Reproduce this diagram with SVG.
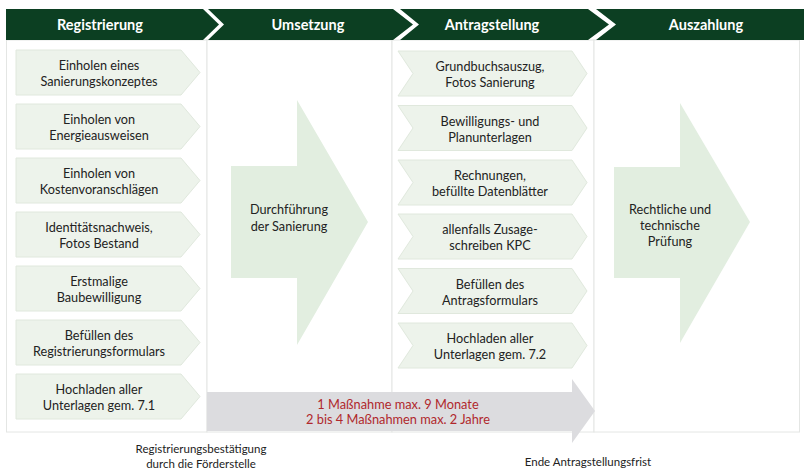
<svg xmlns="http://www.w3.org/2000/svg" width="804" height="471" viewBox="0 0 804 471">
<defs>
<style>
text{font-family:Lato,"Open Sans","Liberation Sans",sans-serif;}
.hd{fill:#0c3f22;}
.ht{fill:#ffffff;font-size:14.5px;font-weight:bold;text-anchor:middle;}
.col{fill:#ffffff;stroke:#e4e6e4;stroke-width:1;}
.box{fill:#edf3eb;stroke:#e0e8dd;stroke-width:1;}
.big{fill:#e2eee0;}
.t{fill:#222222;font-size:12.7px;text-anchor:middle;}
.red{fill:#b0282c;font-size:12.8px;text-anchor:middle;}
.lb{fill:#222222;font-size:11.5px;text-anchor:middle;}
</style>
</defs>
<rect x="0" y="0" width="804" height="471" fill="#ffffff"/>

<g id="columns">
<rect class="col" x="6.5" y="40" width="200.5" height="392"/>
<rect class="col" x="207" y="40" width="185" height="392"/>
<rect class="col" x="392" y="40" width="202" height="392"/>
<rect class="col" x="594" y="40" width="205.5" height="392"/>
</g>

<g id="header">
<g id="h-registrierung"><polygon class="hd" points="6,9 203,9 219,24.5 203,40 6,40"/><text class="ht" x="100" y="30">Registrierung</text></g>
<g id="h-umsetzung"><polygon class="hd" points="208,9 393,9 413,24.5 393,40 208,40 224,24.5"/><text class="ht" x="308" y="30">Umsetzung</text></g>
<g id="h-antragstellung"><polygon class="hd" points="400,9 588,9 609,24.5 588,40 400,40 419,24.5"/><text class="ht" x="492" y="30">Antragstellung</text></g>
<g id="h-auszahlung"><polygon class="hd" points="596,9 804,9 804,40 596,40 616,24.5"/><text class="ht" x="706" y="30">Auszahlung</text></g>
</g>

<g id="reg-1"><polygon class="box" points="16,50 181,50 200,72.5 181,95 16,95"/><text class="t" x="99" y="70">Einholen eines</text><text class="t" x="99" y="86">Sanierungskonzeptes</text></g>
<g id="reg-2"><polygon class="box" points="16,104 181,104 200,126.5 181,149 16,149"/><text class="t" x="99" y="124">Einholen von</text><text class="t" x="99" y="140">Energieausweisen</text></g>
<g id="reg-3"><polygon class="box" points="16,158 181,158 200,180.5 181,203 16,203"/><text class="t" x="99" y="178">Einholen von</text><text class="t" x="99" y="194">Kostenvoranschlägen</text></g>
<g id="reg-4"><polygon class="box" points="16,212 181,212 200,234.5 181,257 16,257"/><text class="t" x="99" y="232">Identitätsnachweis,</text><text class="t" x="99" y="248">Fotos Bestand</text></g>
<g id="reg-5"><polygon class="box" points="16,266 181,266 200,288.5 181,311 16,311"/><text class="t" x="99" y="286">Erstmalige</text><text class="t" x="99" y="302">Baubewilligung</text></g>
<g id="reg-6"><polygon class="box" points="16,320 181,320 200,342.5 181,365 16,365"/><text class="t" x="99" y="340">Befüllen des</text><text class="t" x="99" y="356">Registrierungsformulars</text></g>
<g id="reg-7"><polygon class="box" points="16,374 181,374 200,396.5 181,419 16,419"/><text class="t" x="99" y="394">Hochladen aller</text><text class="t" x="99" y="410">Unterlagen gem. 7.1</text></g>

<g id="umsetzung-arrow"><polygon class="big" points="231,166 297,166 297,100 368,222 297,345 297,278 231,278"/><text class="t" x="289" y="214">Durchführung</text><text class="t" x="289" y="231">der Sanierung</text></g>

<g id="ant-1"><polygon class="box" points="398,51 572,51 587,73.5 572,96 398,96 413,73.5"/><text class="t" x="490" y="71">Grundbuchsauszug,</text><text class="t" x="490" y="87">Fotos Sanierung</text></g>
<g id="ant-2"><polygon class="box" points="398,105.5 572,105.5 587,128 572,150.5 398,150.5 413,128"/><text class="t" x="490" y="125.5">Bewilligungs- und</text><text class="t" x="490" y="141.5">Planunterlagen</text></g>
<g id="ant-3"><polygon class="box" points="398,160 572,160 587,182.5 572,205 398,205 413,182.5"/><text class="t" x="490" y="180">Rechnungen,</text><text class="t" x="490" y="196">befüllte Datenblätter</text></g>
<g id="ant-4"><polygon class="box" points="398,214 572,214 587,236.5 572,259 398,259 413,236.5"/><text class="t" x="490" y="234">allenfalls Zusage-</text><text class="t" x="490" y="250">schreiben KPC</text></g>
<g id="ant-5"><polygon class="box" points="398,268.5 572,268.5 587,291 572,313.5 398,313.5 413,291"/><text class="t" x="490" y="288.5">Befüllen des</text><text class="t" x="490" y="304.5">Antragsformulars</text></g>
<g id="ant-6"><polygon class="box" points="398,323 572,323 587,345.5 572,368 398,368 413,345.5"/><text class="t" x="490" y="343">Hochladen aller</text><text class="t" x="490" y="359">Unterlagen gem. 7.2</text></g>

<g id="auszahlung-arrow"><polygon class="big" points="614,167 680,167 680,103 750,222 680,343 680,278 614,278"/><text class="t" x="670" y="214">Rechtliche und</text><text class="t" x="670" y="230">technische</text><text class="t" x="670" y="246">Prüfung</text></g>

<g id="frist-arrow"><polygon fill="#dcdcdf" points="207,392 572,392 572,379 595,411 572,443 572,431 207,431"/><text class="red" x="398" y="409">1 Maßnahme max. 9 Monate</text><text class="red" x="398" y="424">2 bis 4 Maßnahmen max. 2 Jahre</text></g>

<g id="labels">
<text class="lb" x="201" y="453">Registrierungsbestätigung</text>
<text class="lb" x="201" y="467.5">durch die Förderstelle</text>
<text class="lb" x="588" y="466">Ende Antragstellungsfrist</text>
</g>
</svg>
